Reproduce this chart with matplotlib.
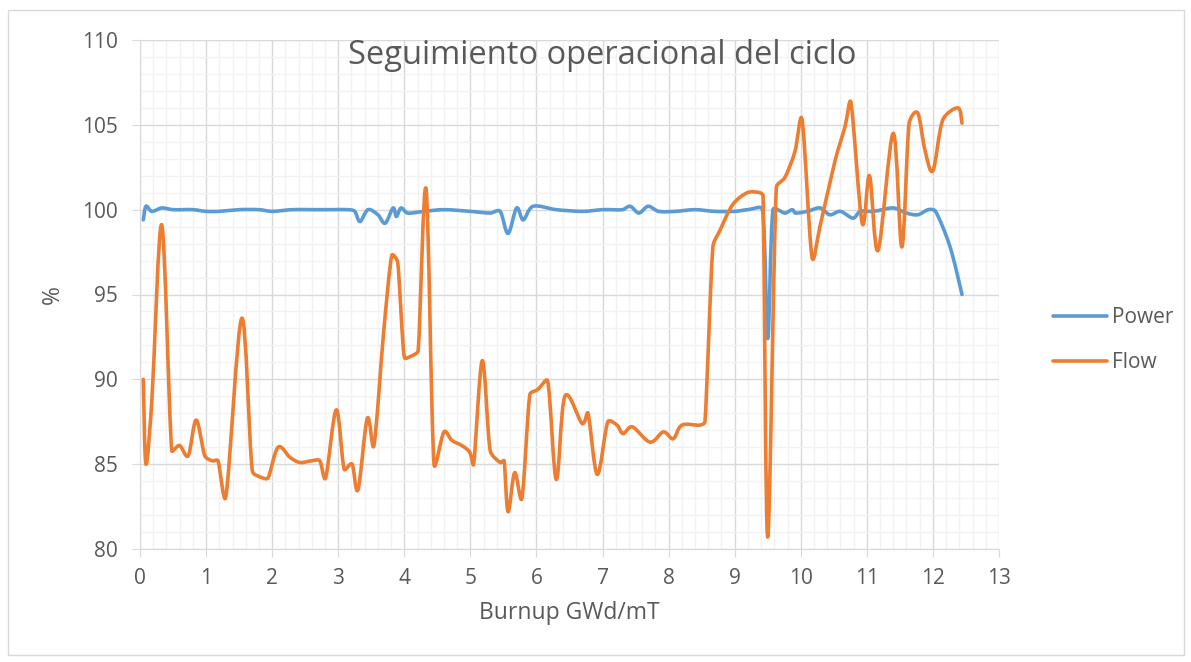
import numpy as np
import matplotlib
matplotlib.use('Agg')
import matplotlib.pyplot as plt
from matplotlib.path import Path
from matplotlib.patches import PathPatch, Rectangle
from matplotlib.lines import Line2D
from matplotlib.ticker import MultipleLocator

# %% ============================ Data ========================================
power_x = [0.05, 0.09, 0.18, 0.33, 0.5, 0.8, 1.0, 1.2, 1.5, 1.8, 2.0, 2.3, 2.6,
           2.9, 3.15, 3.25, 3.33, 3.45, 3.6, 3.71, 3.83, 3.88, 3.95, 4.05,
           4.3, 4.6, 5.0, 5.3, 5.45, 5.57, 5.7, 5.8, 5.95, 6.3, 6.7, 7.0,
           7.3, 7.42, 7.55, 7.69, 7.85, 8.1, 8.4, 8.7, 9.0, 9.2, 9.42, 9.5,
           9.58, 9.76, 9.87, 9.92, 10.1, 10.29, 10.44, 10.6, 10.79, 10.9,
           11.1, 11.4, 11.6, 11.77, 11.93, 12.04, 12.26, 12.44]
power_y = [99.4, 100.2, 99.9, 100.1, 100.0, 100.0, 99.9, 99.9, 100.0, 100.0,
           99.9, 100.0, 100.0, 100.0, 100.0, 99.9, 99.3, 100.0, 99.7, 99.2,
           100.1, 99.6, 100.1, 99.8, 99.9, 100.0, 99.9, 99.8, 99.9, 98.6,
           100.1, 99.4, 100.2, 100.0, 99.9, 100.0, 100.0, 100.2, 99.8, 100.2,
           99.9, 99.9, 100.0, 99.9, 99.9, 100.0, 100.0, 92.4, 100.0, 99.8,
           100.0, 99.8, 99.9, 100.1, 99.7, 99.9, 99.5, 99.9, 99.9, 100.1,
           99.8, 99.7, 100.0, 99.9, 97.8, 95.0]

flow_x = [0.05, 0.09, 0.18, 0.33, 0.48, 0.6, 0.73, 0.85, 0.98, 1.09, 1.18,
          1.3, 1.54, 1.7, 1.85, 1.94, 2.09, 2.27, 2.42, 2.6, 2.72, 2.81, 2.97,
          3.09, 3.21, 3.3, 3.44, 3.54, 3.69, 3.81, 3.9, 4.0, 4.12, 4.21, 4.33,
          4.45, 4.6, 4.72, 4.87, 4.99, 5.05, 5.18, 5.3, 5.45, 5.51, 5.57, 5.67,
          5.78, 5.9, 6.02, 6.17, 6.3, 6.43, 6.69, 6.78, 6.92, 7.08, 7.22, 7.31,
          7.45, 7.72, 7.92, 8.07, 8.2, 8.47, 8.55, 8.67, 8.78, 8.97, 9.19,
          9.38, 9.43, 9.5, 9.63, 9.76, 9.91, 10.02, 10.17, 10.29, 10.52, 10.67,
          10.76, 10.93, 11.04, 11.17, 11.4, 11.53, 11.64, 11.77, 11.88, 12.0,
          12.15, 12.38, 12.44]
flow_y = [90.0, 85.0, 88.8, 99.1, 85.8, 86.1, 85.5, 87.6, 85.5, 85.2, 85.2,
          83.1, 93.6, 84.6, 84.2, 84.2, 86.0, 85.4, 85.1, 85.2, 85.2, 84.2,
          88.2, 84.7, 85.0, 83.5, 87.7, 86.1, 92.9, 97.3, 96.9, 91.3, 91.4,
          91.7, 101.2, 85.0, 86.9, 86.4, 86.1, 85.7, 85.0, 91.1, 85.8, 85.1,
          85.2, 82.2, 84.5, 83.0, 89.1, 89.4, 89.9, 84.1, 89.0, 87.4, 88.0,
          84.4, 87.5, 87.3, 86.8, 87.2, 86.3, 86.9, 86.5, 87.3, 87.3, 87.5,
          97.8, 98.8, 100.3, 101.0, 101.0, 100.8, 80.7, 101.3, 101.9, 103.4,
          105.3, 97.2, 99.0, 102.9, 104.9, 106.3, 99.2, 102.0, 97.6, 104.5,
          97.8, 105.1, 105.7, 103.5, 102.3, 105.3, 106.0, 105.1]

x_ticks = np.arange(0, 14, 1)
y_ticks = np.arange(80, 111, 5)

blue = '#5B9BD5'
orange = '#ED7D31'
text_col = '#595959'

# pixels per data unit, so the smoothing is done in screen space
sx, sy = 859 / 13, 509 / 30


def smooth_path(x, y):
    # Excel style smoothed line: cubic bezier segments, handles clamped
    p = np.column_stack([np.asarray(x) * sx, np.asarray(y) * sy])
    n = len(p)
    tang = np.zeros_like(p)
    for i in range(n):
        a = p[max(i - 1, 0)]
        b = p[min(i + 1, n - 1)]
        tang[i] = (b - a) / 6.0
    verts = [p[0]]
    codes = [Path.MOVETO]
    for i in range(n - 1):
        d = np.hypot(*(p[i + 1] - p[i]))
        t1, t2 = tang[i], tang[i + 1]
        l1, l2 = np.hypot(*t1), np.hypot(*t2)
        lim = 0.35 * d
        if l1 > lim:
            t1 = t1 * lim / l1
        if l2 > lim:
            t2 = t2 * lim / l2
        verts += [p[i] + t1, p[i + 1] - t2, p[i + 1]]
        codes += [Path.CURVE4] * 3
    verts = np.array(verts) / [sx, sy]
    return Path(verts, codes)


# %% ============================ Figure ======================================
fig = plt.figure(figsize=(11.91, 6.62), dpi=100)
plt.rcParams['font.family'] = ['Open Sans', 'DejaVu Sans']
ax = fig.add_axes([140 / 1191, 1 - 549 / 662, 859 / 1191, 509 / 662])

# chart border
fig.patches.append(Rectangle((8 / 1191, 7 / 662), 1176 / 1191, 645 / 662,
                             transform=fig.transFigure, fill=False,
                             edgecolor='#D9D9D9', linewidth=1))

for xs, ys, c in [(power_x, power_y, blue), (flow_x, flow_y, orange)]:
    ax.add_patch(PathPatch(smooth_path(xs, ys), facecolor='none',
                           edgecolor=c, linewidth=2.6, capstyle='round',
                           joinstyle='round', zorder=3))

# %% =========================== Axis =========================================
ax.set_xlim(0, 13)
ax.set_ylim(80, 110)
ax.set_xticks(x_ticks)
ax.set_yticks(y_ticks)
ax.xaxis.set_minor_locator(MultipleLocator(0.2))
ax.yaxis.set_minor_locator(MultipleLocator(1))
ax.grid(which='major', color='#D9D9D9', linewidth=1)
ax.grid(which='minor', color='#F2F2F2', linewidth=1)
ax.set_axisbelow(True)
for s in ['top', 'right']:
    ax.spines[s].set_visible(False)
for s in ['left', 'bottom']:
    ax.spines[s].set_color('#D9D9D9')
ax.tick_params(which='major', direction='out', length=6, color='#D9D9D9',
               labelsize=15, labelcolor=text_col)
ax.tick_params(axis='x', pad=8)
ax.tick_params(axis='y', pad=10)
ax.tick_params(which='minor', length=0)

ax.set_xlabel('Burnup GWd/mT', fontsize=16.5, color=text_col, labelpad=8)
ax.set_ylabel('%', fontsize=16.5, color=text_col, labelpad=12)
# title is centred on the whole chart, not on the plot area
fig.text(602 / 1191, 1 - 55 / 662, 'Seguimiento operacional del ciclo',
         fontsize=23.5, color=text_col, ha='center', va='center')

# %% ====================== Legend ============================================
handles = [Line2D([], [], color=blue, lw=2.6, solid_capstyle='round'),
           Line2D([], [], color=orange, lw=2.6, solid_capstyle='round')]
fig.legend(handles, ['Power', 'Flow'], loc='center left',
           bbox_to_anchor=(1034 / 1191, 1 - 340 / 662), frameon=False,
           fontsize=15, labelcolor=text_col, handlelength=2.6,
           labelspacing=1.15, handletextpad=0.25)

fig.savefig('out.png', dpi=100)
